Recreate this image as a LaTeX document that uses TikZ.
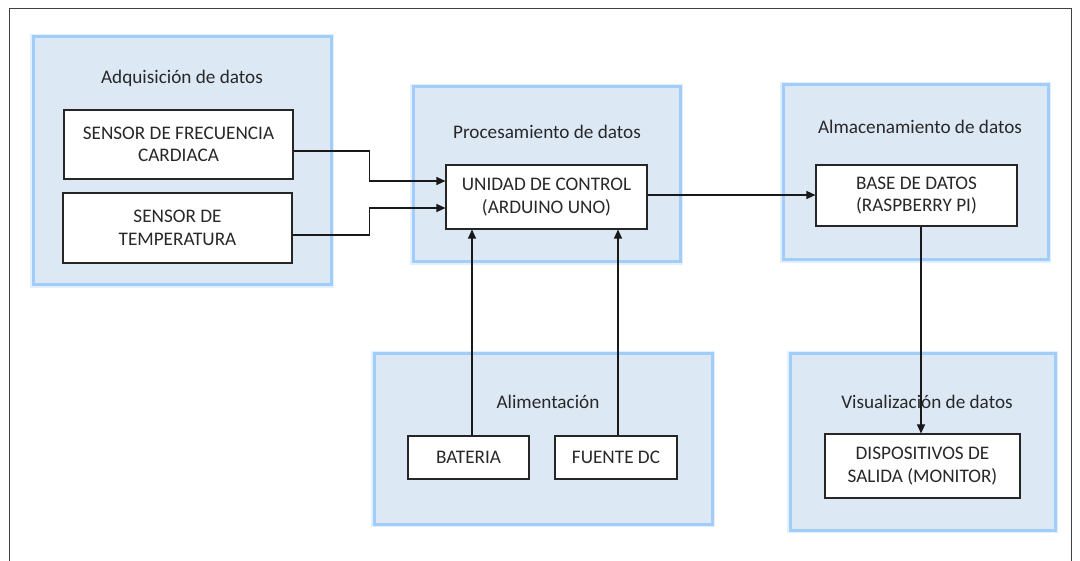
\documentclass[tikz,border=0pt]{standalone}
\usepackage{fontspec}
\setmainfont{Carlito}
\usetikzlibrary{arrows.meta,calc}
\definecolor{panelfill}{RGB}{221,232,245}
\definecolor{panelglow}{RGB}{160,205,250}
\definecolor{inkgray}{RGB}{40,40,40}
\tikzset{
  panel/.style={fill=panelfill, draw=panelglow, line width=3pt},
  paneltitle/.style={font=\fontsize{19.2}{22}\selectfont, text=inkgray, inner sep=0pt},
  blockbox/.style={draw=black!85, fill=white, line width=1.1pt, align=center,
    font=\fontsize{19.2}{22.5}\selectfont, text=inkgray, inner sep=0pt},
  link/.style={draw=black!90, line width=1.1pt},
  flow/.style={link, -{Triangle[length=9pt,width=8pt]}}
}
\begin{document}
\begin{tikzpicture}[x=1pt,y=-1pt]
  \useasboundingbox (0,0) rectangle (1080,561);
  % outer frame, open at the bottom edge
  \draw[black!75, line width=1pt] (9,570) -- (9,9) -- (1071,9) -- (1071,570);

  % grouping panels with a soft blue rim
  \foreach \xa/\ya/\xb/\yb in {33/37/331/285, 413/87/680/262, 783/85/1048/260,
                               374/354/712/524, 790/354/1055/530}{
    \draw[panelglow!60, line width=6pt, opacity=0.5] (\xa,\ya) rectangle (\xb,\yb);
    \draw[panel] (\xa,\ya) rectangle (\xb,\yb);
  }

  % panel titles
  \node[paneltitle] (tAdq) at (182,78)  {Adquisición de datos};
  \node[paneltitle] (tPro) at (547,132) {Procesamiento de datos};
  \node[paneltitle] (tAlm) at (920,127) {Almacenamiento de datos};
  \node[paneltitle] (tAli) at (548,402) {Alimentación};
  \node[paneltitle] (tVis) at (927,402) {Visualización de datos};

  % functional blocks
  \node[blockbox, minimum width=229pt, minimum height=69pt] (freq) at (178.5,144.5)
    {SENSOR DE FRECUENCIA\\CARDIACA};
  \node[blockbox, minimum width=229pt, minimum height=70pt] (temp) at (177.5,228)
    {SENSOR DE\\TEMPERATURA};
  \node[blockbox, minimum width=201pt, minimum height=64pt] (ctrl) at (546.5,197)
    {UNIDAD DE CONTROL\\(ARDUINO UNO)};
  \node[blockbox, minimum width=201pt, minimum height=61pt] (db) at (916.5,195.5)
    {BASE DE DATOS\\(RASPBERRY PI)};
  \node[blockbox, minimum width=121pt, minimum height=43pt] (bat) at (468.5,457.5)
    {BATERIA};
  \node[blockbox, minimum width=122pt, minimum height=43pt] (dc) at (616,457.5)
    {FUENTE DC};
  \node[blockbox, minimum width=195pt, minimum height=64pt] (out) at (922.5,466)
    {DISPOSITIVOS DE\\SALIDA (MONITOR)};

  % signal paths
  \coordinate (fq) at ([yshift=-6.5pt]freq.east);
  \coordinate (tp) at ([yshift=-7pt]temp.east);
  \coordinate (ctrlA) at ([yshift=16pt]ctrl.west);
  \coordinate (ctrlB) at ([yshift=-11pt]ctrl.west);
  \draw[flow] (fq) -- ++(76,0) |- (ctrlA);
  \draw[flow] (tp) -- ++(77,0) |- (ctrlB);
  \coordinate (batTop) at ([xshift=3.5pt]bat.north);
  \coordinate (dcTop) at ([xshift=2pt]dc.north);
  \draw[flow] (batTop) -- (batTop |- ctrl.south);
  \draw[flow] (dcTop) -- (dcTop |- ctrl.south);
  \coordinate (ctrlOut) at ([yshift=2pt]ctrl.east);
  \draw[flow] (ctrlOut) -- (ctrlOut -| db.west);
  \coordinate (dbOut) at ([xshift=4.5pt]db.south);
  \draw[flow] (dbOut) -- (dbOut |- out.north);
\end{tikzpicture}
\end{document}
